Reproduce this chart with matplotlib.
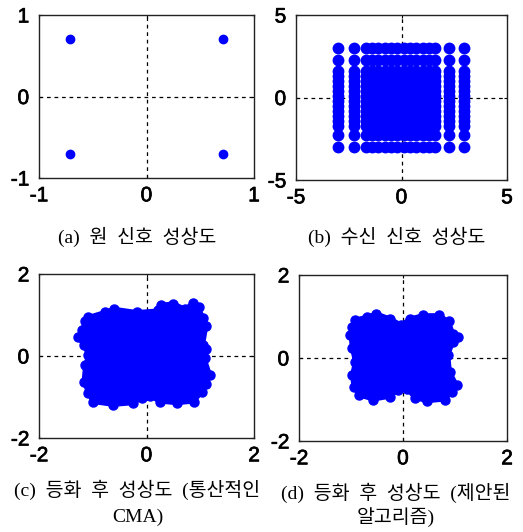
import numpy as np
import matplotlib
matplotlib.use("Agg")
import matplotlib.pyplot as plt
import matplotlib.patheffects as pe

plt.rcParams['font.family'] = ['Liberation Sans', 'DejaVu Sans']
plt.rcParams['axes.unicode_minus'] = False

# (a) original QPSK constellation
a_i = [-0.707, 0.707, -0.707, 0.707]
a_q = [0.707, 0.707, -0.707, -0.707]

# (b) received constellation: occupied I / Q levels
b_levels_i = [-3.0, -2.25, -1.7, -1.4, -1.1, -0.8, -0.5, -0.2, 0.1, 0.4,
              0.7, 1.0, 1.3, 1.6, 2.25, 2.95]
b_levels_q = [3.0, 2.3, 1.6, 1.3, 1.0, 0.7, 0.4, 0.1, -0.2, -0.5, -0.8,
              -1.1, -1.4, -1.7, -2.3, -3.0]

# (c) equalized cloud, conventional CMA (edge of the cloud)
c_edge_i = [-1.08, -0.78, -0.60, -0.18, 0.22, 0.27, 0.50, 0.72, 0.87, 0.97,
            1.05, 1.11, 1.05, 1.11, 1.08, 1.18, 1.11, 1.03, 0.88, 0.56,
            0.25, 0.06, -0.09, -0.25, -0.62, -1.00, -1.08, -1.17, -1.14,
            -1.08, -1.17, -1.28, -1.20, -1.14]
c_edge_q = [0.95, 1.07, 1.15, 1.07, 1.11, 1.25, 1.28, 1.15, 1.30, 1.19,
            0.93, 0.72, 0.27, 0.17, -0.06, -0.46, -0.68, -0.88, -1.11, -1.15,
            -1.11, -0.98, -1.02, -1.15, -1.19, -1.12, -0.90, -0.63, -0.22,
            0.02, 0.27, 0.47, 0.63, 0.85]

# (d) equalized cloud, proposed algorithm
d_edge_i = [-0.98, -0.93, -0.70, -0.51, -0.25, -0.03, 0.13, 0.39, 0.70, 0.88,
            0.96, 1.06, 0.96, 0.87, 0.90, 1.03, 0.94, 0.80, 0.46, 0.23,
            0.07, -0.09, -0.25, -0.57, -0.84, -0.95, -0.98, -0.92, -0.98,
            -1.01]
d_edge_q = [0.75, 0.92, 0.99, 1.07, 0.95, 0.80, 0.95, 1.03, 1.03, 0.88,
            0.59, 0.51, 0.39, 0.07, -0.33, -0.65, -0.82, -1.00, -1.04, -0.96,
            -0.74, -0.77, -0.93, -1.00, -0.90, -0.70, -0.41, -0.09, 0.23,
            0.56]

captions = ["(a)  원  신호  성상도", "(b)  수신  신호  성상도",
            "(c)  등화  후  성상도  (통산적인", "CMA)",
            "(d)  등화  후  성상도  (제안된", "알고리즘)"]
limits = [1, 5, 2, 2]

W, H = 523, 532
fig = plt.figure(figsize=(W / 100, H / 100), dpi=100)
boxes = [(39, 15, 254, 178), (296, 15, 507, 180),
         (39, 274, 254, 438), (299, 275, 507, 441)]
axes = []
for (l, t, r, b) in boxes:
    axes.append(fig.add_axes([l / W, 1 - b / H, (r - l) / W, (b - t) / H]))

blue = '#0000ff'

for ax, lim in zip(axes, limits):
    ax.set_xlim(-lim, lim)
    ax.set_ylim(-lim, lim)
    ax.set_xticks([-lim, 0, lim])
    ax.set_yticks([-lim, 0, lim])
    ax.axhline(0, color='black', ls=(0, (3, 3)), lw=0.9, zorder=1)
    ax.axvline(0, color='black', ls=(0, (3, 3)), lw=0.9, zorder=1)
    ax.tick_params(direction='in', length=2, width=0.8, labelsize=15,
                   top=True, right=True)
    ax.tick_params(axis='y', pad=7)
    ax.tick_params(axis='x', pad=6)
    for lab in ax.get_xticklabels() + ax.get_yticklabels():
        lab.set_path_effects([pe.withStroke(linewidth=0.5, foreground='black')])
    for s in ax.spines.values():
        s.set_linewidth(1.0)
        s.set_color('#222222')

axes[0].plot(a_i, a_q, 'o', color=blue, ms=6, mec=blue, zorder=3)

bi, bq = np.meshgrid(b_levels_i, b_levels_q)
axes[1].plot(bi.ravel(), bq.ravel(), 'o', color=blue, ms=7.5, mec=blue,
             zorder=3)

# cloud = edge polygon, dots along the edge give the bumpy outline
for ax, ei, eq in [(axes[2], c_edge_i, c_edge_q), (axes[3], d_edge_i, d_edge_q)]:
    ax.fill(ei, eq, facecolor=blue, edgecolor=blue, lw=3,
            joinstyle='round', zorder=2)
    ax.plot(ei, eq, 'o', color=blue, ms=6.5, mec=blue, zorder=3)

cap_font = ['Liberation Serif', 'Noto Sans CJK KR']
cap_pos = [(137, 237), (397, 237), (137, 490), (138, 517),
           (396, 493), (396, 517)]
for txt, (x, y) in zip(captions, cap_pos):
    fig.text(x / W, 1 - y / H, txt, ha='center', va='center',
             fontsize=14, family=cap_font)

fig.savefig('out.png', dpi=100)
